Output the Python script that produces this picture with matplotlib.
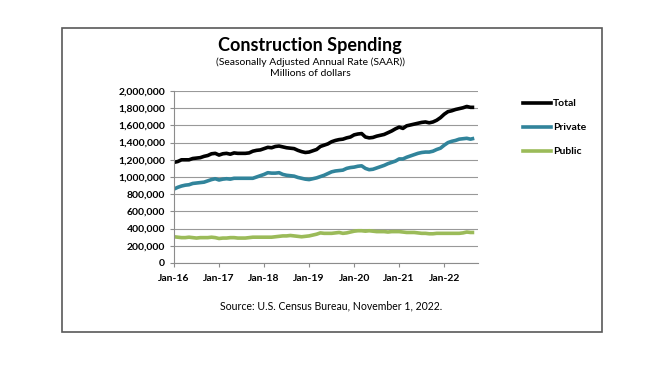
import matplotlib
matplotlib.use("Agg")
from matplotlib import pyplot as plt
from matplotlib.patches import Rectangle
from matplotlib.ticker import FuncFormatter

plt.rcParams['font.family'] = ['Lato', 'DejaVu Sans']

# monthly SAAR, thousands of millions (Jan-16 .. Sep-22)
total = [1170, 1180, 1200, 1200, 1200, 1215, 1220, 1225, 1240, 1250, 1270, 1275,
         1255, 1270, 1275, 1265, 1280, 1275, 1275, 1275, 1280, 1300, 1310, 1315,
         1330, 1345, 1340, 1355, 1360, 1350, 1340, 1335, 1330, 1310, 1295, 1285,
         1290, 1305, 1320, 1355, 1370, 1385, 1410, 1425, 1435, 1440, 1455, 1465,
         1490, 1500, 1505, 1465, 1455, 1460, 1475, 1485, 1495, 1515, 1535, 1560,
         1580, 1565, 1595, 1605, 1615, 1625, 1635, 1640, 1630, 1640, 1660, 1690,
         1730, 1760, 1770, 1785, 1795, 1805, 1820, 1810, 1810]
private = [860, 880, 895, 905, 910, 925, 930, 935, 940, 955, 970, 980,
           965, 975, 980, 975, 985, 985, 985, 985, 985, 985, 1000, 1015,
           1030, 1050, 1045, 1045, 1050, 1030, 1020, 1015, 1010, 995, 985, 975,
           970, 980, 990, 1005, 1020, 1040, 1060, 1070, 1075, 1080, 1100, 1110,
           1115, 1125, 1130, 1100, 1085, 1090, 1105, 1120, 1135, 1155, 1170, 1185,
           1210, 1210, 1230, 1245, 1260, 1275, 1285, 1290, 1290, 1300, 1320, 1335,
           1370, 1400, 1415, 1425, 1440, 1445, 1450, 1440, 1450]
public = [305, 300, 295, 295, 300, 295, 290, 295, 295, 295, 300, 295,
          285, 290, 290, 295, 295, 290, 290, 290, 295, 300, 300, 300,
          300, 300, 300, 305, 310, 315, 315, 320, 315, 310, 305, 310,
          315, 325, 335, 350, 345, 345, 345, 350, 355, 345, 350, 360,
          370, 375, 375, 370, 375, 370, 365, 365, 365, 360, 365, 365,
          365, 360, 355, 355, 355, 350, 345, 345, 340, 340, 345, 345,
          345, 345, 345, 345, 345, 350, 360, 355, 355]
year_labels = ['Jan-16', 'Jan-17', 'Jan-18', 'Jan-19', 'Jan-20', 'Jan-21', 'Jan-22']

series = [('Total', total, '#000000'),
          ('Private', private, '#31849B'),
          ('Public', public, '#9BBB59')]

fig = plt.figure(figsize=(6.6, 3.66), dpi=100)
W, H = 660, 366

# outer frame
fig.patches.append(Rectangle((62 / W, 1 - 332 / H), (602 - 62) / W, (332 - 28) / H,
                             transform=fig.transFigure, fill=False,
                             edgecolor='#595959', linewidth=1.2))

ax = fig.add_axes([174 / W, 1 - 263 / H, (478 - 174) / W, (263 - 91) / H])
months = list(range(len(total)))
for name, vals, col in series:
    ax.plot(months, [v * 1000 for v in vals], color=col, linewidth=2.6,
            solid_capstyle='butt')

ax.set_xlim(0, 81)
ax.set_ylim(0, 2000000)
ax.set_yticks(range(0, 2000001, 200000))
ax.yaxis.set_major_formatter(FuncFormatter(lambda v, p: f'{int(v):,}'))
ax.set_xticks([12 * i for i in range(len(year_labels))])
ax.set_xticklabels(year_labels)
ax.grid(axis='y', color='#999999', linewidth=0.8)
ax.set_axisbelow(True)
for s in ['top', 'right']:
    ax.spines[s].set_visible(False)
for s in ['left', 'bottom']:
    ax.spines[s].set_color('#8c8c8c')
ax.tick_params(axis='both', colors='#8c8c8c', length=3, width=0.8, labelsize=7.5,
               labelcolor='black')
ax.tick_params(axis='x', pad=5)
for lab in ax.get_xticklabels() + ax.get_yticklabels():
    lab.set_fontweight('bold')

fig.text(310 / W, 1 - 45 / H, 'Construction Spending', ha='center', va='center',
         fontsize=13, fontweight='bold')
fig.text(310 / W, 1 - 62 / H, '(Seasonally Adjusted Annual Rate (SAAR))',
         ha='center', va='center', fontsize=7.5)
fig.text(310 / W, 1 - 73 / H, 'Millions of dollars', ha='center', va='center',
         fontsize=7.5)
fig.text(331 / W, 1 - 306 / H, 'Source: U.S. Census Bureau, November 1, 2022.',
         ha='center', va='center', fontsize=7.6)

# legend drawn by hand to the right of the plot
for i, (name, vals, col) in enumerate(series):
    y = 1 - (103 + 24 * i) / H
    fig.add_artist(plt.Line2D([523 / W, 551 / W], [y, y], color=col, linewidth=2.6,
                              transform=fig.transFigure))
    fig.text(553 / W, y, name, ha='left', va='center', fontsize=7.5,
             fontweight='bold')

fig.savefig('out.png', dpi=100)
